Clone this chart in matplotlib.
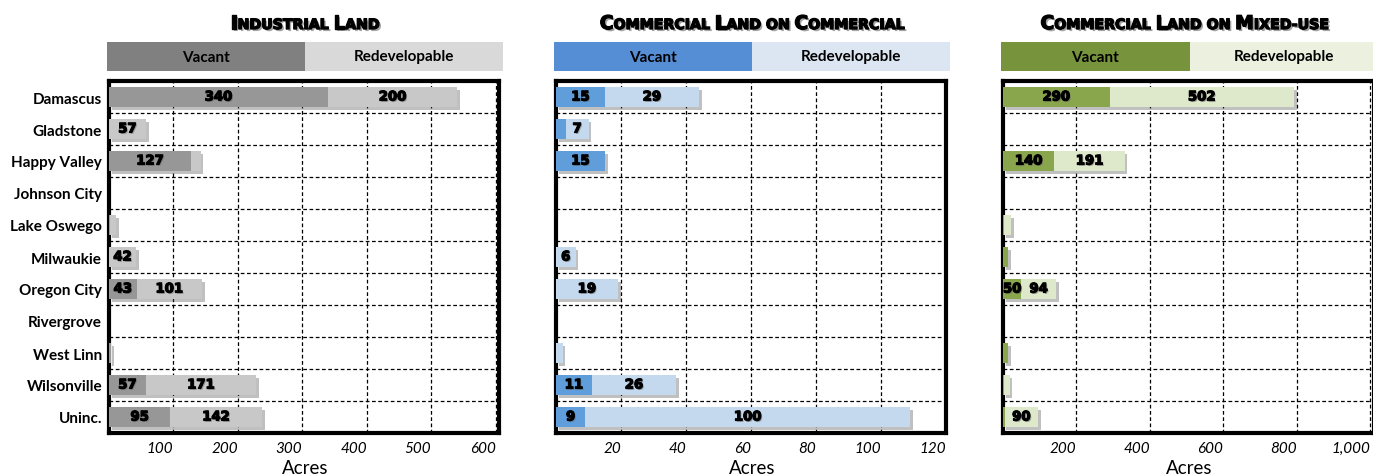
import matplotlib
matplotlib.use("Agg")
import matplotlib.pyplot as plt
import matplotlib.patheffects as pe
from matplotlib.patches import Rectangle
from matplotlib.transforms import IdentityTransform

cities = ["Damascus", "Gladstone", "Happy Valley", "Johnson City", "Lake Oswego",
          "Milwaukie", "Oregon City", "Rivergrove", "West Linn", "Wilsonville", "Uninc."]

ind_vacant = [340, 0, 127, 0, 2, 0, 43, 0, 3, 57, 95]
ind_redev = [200, 57, 15, 0, 9, 42, 101, 0, 0, 171, 142]

com_vacant = [15, 3, 15, 0, 0, 0, 0, 0, 0, 11, 9]
com_redev = [29, 7, 0, 0, 0, 6, 19, 0, 2, 26, 100]

mix_vacant = [290, 0, 140, 0, 3, 13, 50, 0, 13, 3, 5]
mix_redev = [502, 0, 191, 0, 20, 0, 94, 0, 0, 15, 90]

ind_ticks = [100, 200, 300, 400, 500, 600]
com_ticks = [20, 40, 60, 80, 100, 120]
mix_ticks = [200, 400, 600, 800, 1000]

W, H = 1373, 477
fig = plt.figure(figsize=(W / 100, H / 100), dpi=100)
fig.patch.set_facecolor("white")

LABEL_FONT = ["Lato", "DejaVu Sans"]
HEAVY_FONT = ["DejaVu Sans"]


def fx(x):
    return x / W


def fy(y):
    return 1 - y / H


def small_caps(text, cx, baseline, big=13.5, small=10.2):
    # fake small caps: capitals big, the rest upper-cased and smaller
    r = fig.canvas.get_renderer()
    pieces = []
    for ch in text:
        size = big if ch.isupper() else small
        if pieces and pieces[-1][1] == size:
            pieces[-1][0] += ch.upper()
        else:
            pieces.append([ch.upper(), size])
    effects = [pe.withSimplePatchShadow(offset=(1.5, -1.5), shadow_rgbFace="0.35", alpha=0.55),
               pe.withStroke(linewidth=1.0, foreground="black")]
    objs = []
    total = 0
    for s, size in pieces:
        t = fig.text(0, 0, s, fontsize=size, fontweight="heavy", family=HEAVY_FONT,
                     transform=IdentityTransform(), ha="left", va="baseline",
                     path_effects=effects)
        w = t.get_window_extent(r).width
        objs.append((t, w))
        total += w
    x = cx - total / 2
    for t, w in objs:
        t.set_position((x, H - baseline))
        x += w


panels = [
    ("Industrial Land", ind_vacant, ind_redev, ind_ticks, 605, 107, 396,
     "#808080", "#d9d9d9", "#979797", "#c8c8c8"),
    ("Commercial Land on Commercial", com_vacant, com_redev, com_ticks, 120, 554, 396,
     "#558ed5", "#dce6f2", "#5f9ddb", "#c5d9ee"),
    ("Commercial Land on Mixed-use", mix_vacant, mix_redev, mix_ticks, 1010, 1001, 377,
     "#77933c", "#ebf1de", "#8aa64c", "#dee8ca"),
]

top, bottom = 82, 434
for i, (title, vac, red, ticks, xmax, left, box_w, hv, hr, bv, br) in enumerate(panels):
    cx = left + box_w / 2
    small_caps(title, cx - (5 if i == 2 else 0), 30)

    # legend header boxes
    fig.add_artist(Rectangle((fx(left), fy(72)), box_w / 2 / W, 29 / H,
                             transform=fig.transFigure, color=hv, lw=0))
    fig.add_artist(Rectangle((fx(left + box_w / 2), fy(72)), box_w / 2 / W, 29 / H,
                             transform=fig.transFigure, color=hr, lw=0))
    fig.text(fx(left + box_w / 4), fy(57.5), "Vacant", ha="center", va="center",
             fontsize=11, fontweight="bold", family=LABEL_FONT)
    fig.text(fx(left + 3 * box_w / 4), fy(57.5), "Redevelopable", ha="center", va="center",
             fontsize=11, fontweight="bold", family=LABEL_FONT)

    l, r = left + 2, left + box_w - 4
    ax = fig.add_axes([fx(l), fy(bottom), (r - l) / W, (bottom - top) / H])
    ypos = list(range(len(cities)))
    shadow = [pe.withSimplePatchShadow(offset=(2, -2), shadow_rgbFace="0.3", alpha=0.35)]
    ax.barh(ypos, vac, height=0.64, color=bv, path_effects=shadow, zorder=3)
    ax.barh(ypos, red, left=vac, height=0.64, color=br, path_effects=shadow, zorder=3)

    ppu = (r - l) / xmax
    teff = [pe.withSimplePatchShadow(offset=(1, -1), shadow_rgbFace="0.4", alpha=0.5),
            pe.withStroke(linewidth=0.9, foreground="black")]
    for y, v, rd in zip(ypos, vac, red):
        if v * ppu >= 14:
            ax.text(v / 2, y, str(v), ha="center", va="center", fontsize=9.5,
                    fontweight="heavy", family=HEAVY_FONT, zorder=5, path_effects=teff)
        if rd * ppu >= 14:
            ax.text(v + rd / 2, y, str(rd), ha="center", va="center", fontsize=9.5,
                    fontweight="heavy", family=HEAVY_FONT, zorder=5, path_effects=teff)

    ax.set_xlim(0, xmax)
    ax.set_ylim(len(cities) - 0.5, -0.5)
    ax.set_xticks(ticks)
    ax.set_xticklabels(["{:,}".format(t) for t in ticks], fontsize=11, style="italic",
                       family=LABEL_FONT, ha="right")
    ax.set_yticks(ypos)
    ax.set_yticks([y + 0.5 for y in ypos[:-1]], minor=True)
    if i == 0:
        ax.set_yticklabels(cities, fontsize=11, fontweight="bold", family=LABEL_FONT)
    else:
        ax.set_yticklabels([])
    ax.tick_params(which="both", length=0)
    ax.tick_params(axis="y", pad=5)
    ax.tick_params(axis="x", pad=6)
    ax.set_axisbelow(True)
    ax.grid(axis="x", which="major", color="black", linestyle=(0, (3, 2)), linewidth=0.9)
    ax.grid(axis="y", which="minor", color="black", linestyle=(0, (3, 2)), linewidth=0.9)
    for s in ax.spines.values():
        s.set_linewidth(3)
        s.set_color("black")

    fig.text(fx(cx), fy(469), "Acres", ha="center", va="center", fontsize=13.5,
             family=LABEL_FONT)

fig.savefig("out.png", dpi=100)
